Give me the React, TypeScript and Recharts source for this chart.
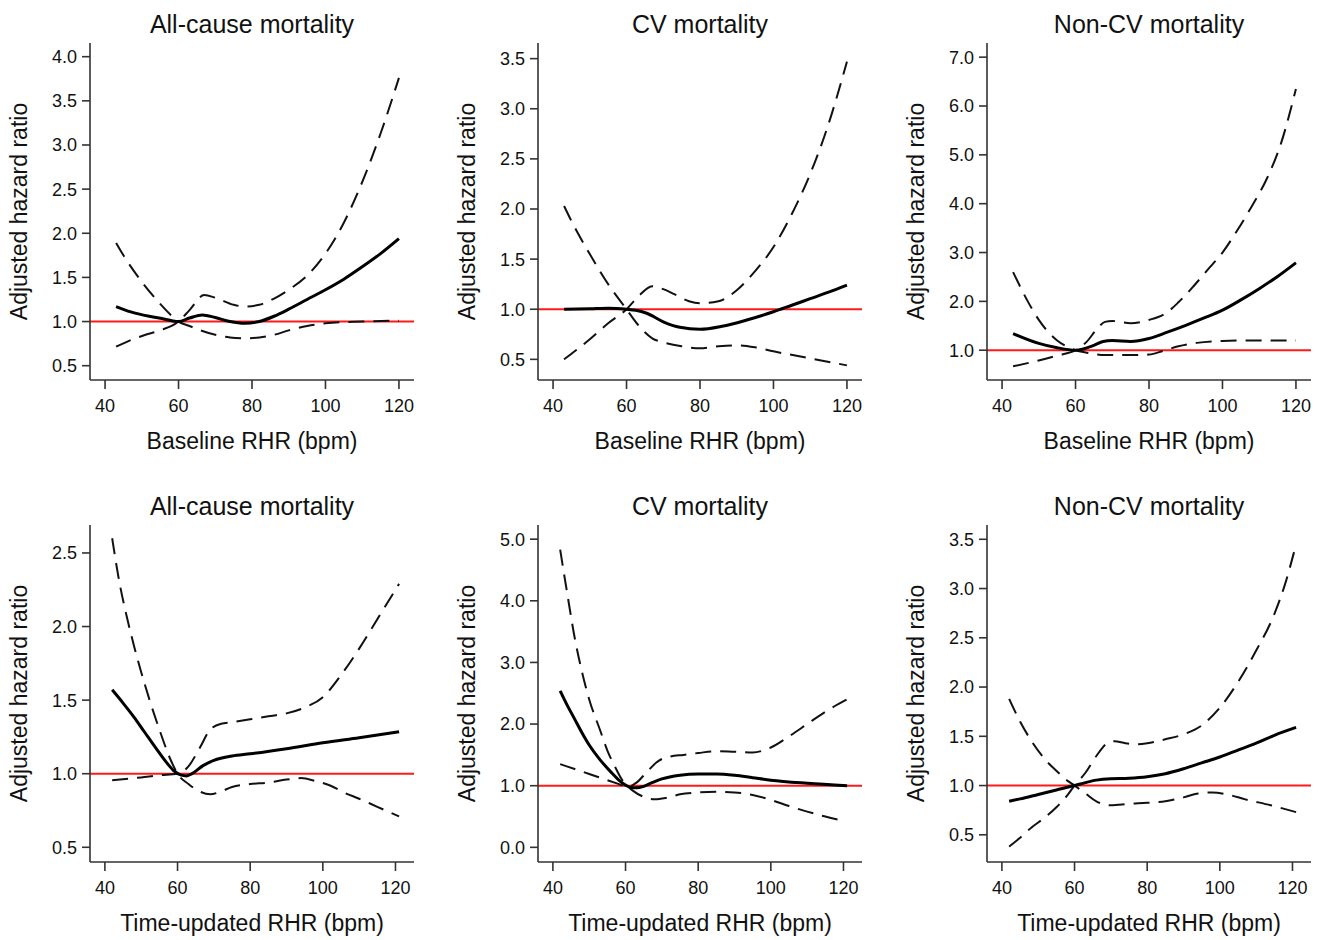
import { LineChart, Line, XAxis, YAxis, ReferenceLine } from 'recharts'

const xTicks = [40, 60, 80, 100, 120]

// top row: baseline RHR
const acBaseEstX = [43, 47, 52, 56, 60, 63, 66.5, 70, 74, 78, 82, 86, 90, 95, 100, 105, 110, 115, 120]
const acBaseEst = [1.17, 1.11, 1.06, 1.03, 1.0, 1.04, 1.075, 1.045, 1.0, 0.98, 1.0, 1.06, 1.14, 1.25, 1.36, 1.48, 1.62, 1.77, 1.94]
const acBaseAX = [43, 45, 50, 55, 58, 60, 63, 66, 70, 74, 78, 82, 86, 90, 95, 100, 110, 120]
const acBaseA = [1.89, 1.75, 1.45, 1.2, 1.07, 1.0, 0.95, 0.9, 0.85, 0.82, 0.81, 0.82, 0.85, 0.9, 0.95, 0.98, 1.0, 1.01]
const acBaseBX = [43, 47, 51, 55, 60, 63, 67, 70, 75, 78, 82, 86, 90, 95, 100, 105, 110, 115, 120]
const acBaseB = [0.715, 0.79, 0.85, 0.9, 1.0, 1.13, 1.3, 1.27, 1.19, 1.17, 1.19, 1.26, 1.36, 1.52, 1.77, 2.12, 2.58, 3.13, 3.76]

const cvBaseEstX = [43, 50, 55, 60, 62.5, 65.5, 70, 74.5, 80, 86, 92.5, 100, 105, 110, 115, 120]
const cvBaseEst = [1.0, 1.005, 1.01, 1.0, 0.99, 0.96, 0.875, 0.82, 0.8, 0.83, 0.89, 0.975, 1.04, 1.105, 1.17, 1.24]
const cvBaseAX = [43, 45, 50, 55, 60, 63, 67, 70, 75, 80, 85, 90, 95, 100, 110, 120]
const cvBaseA = [2.03, 1.88, 1.55, 1.25, 1.0, 0.85, 0.71, 0.67, 0.63, 0.61, 0.63, 0.64, 0.62, 0.58, 0.51, 0.44]
const cvBaseBX = [43, 50, 55, 60, 63, 67, 70, 73, 77, 80, 85, 90, 95, 100, 105, 110, 115, 120]
const cvBaseB = [0.5, 0.7, 0.86, 1.0, 1.12, 1.23, 1.2, 1.15, 1.08, 1.06, 1.08, 1.19, 1.38, 1.62, 1.95, 2.35, 2.85, 3.47]

const ncvBaseEstX = [43, 50, 55, 60, 65, 67.5, 70, 75, 80, 85, 90, 95, 100, 105, 110, 115, 120]
const ncvBaseEst = [1.34, 1.14, 1.05, 1.0, 1.1, 1.18, 1.2, 1.18, 1.24, 1.37, 1.51, 1.66, 1.82, 2.03, 2.26, 2.51, 2.79]
const ncvBaseAX = [43, 47, 50, 55, 58, 60, 63, 68, 75, 80, 84, 88, 93, 100, 110, 120]
const ncvBaseA = [2.6, 2.0, 1.62, 1.2, 1.06, 1.0, 0.95, 0.9, 0.9, 0.91, 0.99, 1.08, 1.15, 1.19, 1.2, 1.2]
const ncvBaseBX = [43, 50, 55, 60, 63, 66, 68, 70, 72, 75, 80, 85, 88, 92, 96, 100, 104, 108, 112, 116, 120]
const ncvBaseB = [0.67, 0.79, 0.89, 1.0, 1.17, 1.45, 1.58, 1.6, 1.58, 1.55, 1.62, 1.78, 1.98, 2.3, 2.65, 3.0, 3.45, 3.95, 4.5, 5.25, 6.35]

// bottom row: time-updated RHR
const acTuEstX = [42, 45, 48, 51, 54, 57, 59, 61, 62.5, 64, 67, 70, 75, 80, 90, 100, 110, 121]
const acTuEst = [1.57, 1.48, 1.385, 1.28, 1.175, 1.075, 1.02, 0.99, 0.985, 1.0, 1.055, 1.09, 1.12, 1.135, 1.17, 1.21, 1.245, 1.285]
const acTuAX = [42, 44, 46, 48, 50, 55, 58, 60, 63, 66, 69, 72, 75, 80, 85, 90, 94, 98, 102, 106, 110, 115, 121]
const acTuA = [2.6, 2.3, 2.07, 1.87, 1.69, 1.3, 1.1, 1.0, 0.93, 0.88, 0.86, 0.88, 0.91, 0.93, 0.94, 0.96, 0.97, 0.95, 0.92, 0.87, 0.83, 0.775, 0.71]
const acTuBX = [42, 50, 55, 60, 63, 66, 69, 72, 75, 80, 85, 90, 95, 100, 105, 110, 115, 121]
const acTuB = [0.955, 0.975, 0.99, 1.0, 1.05, 1.17, 1.3, 1.34, 1.35, 1.37, 1.39, 1.41, 1.45, 1.52, 1.67, 1.85, 2.05, 2.29]

const cvTuEstX = [42, 44, 46, 48, 50, 53, 56, 58, 60, 61.5, 63, 65, 67, 70, 75, 80, 85, 90, 95, 100, 110, 121]
const cvTuEst = [2.54, 2.3, 2.08, 1.86, 1.66, 1.42, 1.22, 1.1, 1.01, 0.97, 0.965, 0.99, 1.04, 1.11, 1.17, 1.19, 1.19, 1.17, 1.13, 1.09, 1.04, 1.0]
const cvTuAX = [42, 44, 46, 48, 50, 53, 55, 57, 59, 60.5, 62, 65, 68, 71, 75, 80, 85, 90, 95, 100, 105, 110, 115, 120]
const cvTuA = [4.83, 4.1, 3.4, 2.85, 2.4, 1.9, 1.57, 1.32, 1.1, 1.0, 0.92, 0.82, 0.78, 0.8, 0.86, 0.89, 0.9, 0.89, 0.85, 0.77, 0.67, 0.58, 0.5, 0.43]
const cvTuBX = [42, 46, 50, 54, 58, 60.5, 63, 66, 69, 72, 76, 80, 85, 90, 95, 100, 105, 110, 115, 121]
const cvTuB = [1.35, 1.27, 1.19, 1.11, 1.03, 0.98, 1.05, 1.23, 1.4, 1.47, 1.5, 1.53, 1.56, 1.55, 1.54, 1.62, 1.8, 2.0, 2.2, 2.4]

const ncvTuEstX = [42, 45, 50, 55, 60, 63, 66, 70, 75, 80, 85, 90, 95, 100, 105, 110, 115, 121]
const ncvTuEst = [0.84, 0.865, 0.91, 0.955, 1.0, 1.03, 1.055, 1.07, 1.075, 1.09, 1.12, 1.17, 1.23, 1.29, 1.36, 1.43, 1.51, 1.59]
const ncvTuAX = [42, 45, 48, 52, 55, 58, 60, 63, 66, 70, 75, 80, 85, 90, 94, 98, 102, 107, 114, 121]
const ncvTuA = [1.88, 1.65, 1.46, 1.26, 1.15, 1.05, 1.0, 0.92, 0.84, 0.8, 0.815, 0.825, 0.84, 0.88, 0.92, 0.93, 0.91, 0.86, 0.8, 0.73]
const ncvTuBX = [42, 45, 48, 52, 55, 58, 60, 63, 66, 69, 71, 74, 77, 80, 85, 90, 95, 100, 105, 110, 115, 118, 121]
const ncvTuB = [0.38, 0.47, 0.57, 0.68, 0.78, 0.9, 1.0, 1.13, 1.3, 1.43, 1.45, 1.43, 1.42, 1.43, 1.47, 1.52, 1.61, 1.79, 2.05, 2.37, 2.74, 3.05, 3.45]

const zip = (xs: number[], ys: number[]) => xs.map((x, i) => ({ x, y: ys[i] }))

const font = '"Liberation Sans", Arial, sans-serif'
const ink = '#111'
const axisColor = '#333'

interface PanelProps {
  left: number
  top: number
  title: string
  xLabel: string
  xDomain: [number, number]
  yDomain: [number, number]
  yTicks: number[]
  est: { x: number; y: number }[]
  bandA: { x: number; y: number }[]
  bandB: { x: number; y: number }[]
}

function Panel({ left, top, title, xLabel, xDomain, yDomain, yTicks, est, bandA, bandB }: PanelProps) {
  return (
    <div style={{ position: 'absolute', left, top, width: 440, height: 470 }}>
      <div
        style={{
          position: 'absolute',
          left: 90,
          width: 324,
          top: 12,
          textAlign: 'center',
          fontFamily: font,
          fontSize: 25,
          lineHeight: '25px',
          color: ink,
          whiteSpace: 'nowrap',
        }}
      >
        {title}
      </div>
      <LineChart width={440} height={470} margin={{ top: 43, right: 26, bottom: 0, left: 0 }}>
        <XAxis
          type="number"
          dataKey="x"
          domain={xDomain}
          ticks={xTicks}
          interval={0}
          allowDataOverflow
          height={90}
          tickSize={9}
          tickMargin={10}
          axisLine={{ stroke: axisColor, strokeWidth: 1.6 }}
          tickLine={{ stroke: axisColor, strokeWidth: 1.6 }}
          tick={{ fill: ink, fontSize: 18, fontFamily: font }}
          label={{ value: xLabel, position: 'insideBottom', offset: 21, fill: ink, fontSize: 23, fontFamily: font }}
        />
        <YAxis
          type="number"
          domain={yDomain}
          ticks={yTicks}
          interval={0}
          allowDataOverflow
          width={90}
          tickSize={8}
          tickMargin={5}
          tickFormatter={(v: number) => v.toFixed(1)}
          axisLine={{ stroke: axisColor, strokeWidth: 1.6 }}
          tickLine={{ stroke: axisColor, strokeWidth: 1.6 }}
          tick={{ fill: ink, fontSize: 18, fontFamily: font }}
          label={{
            value: 'Adjusted hazard ratio',
            angle: -90,
            position: 'insideLeft',
            offset: 19,
            fill: ink,
            fontSize: 23,
            fontFamily: font,
            style: { textAnchor: 'middle' },
          }}
        />
        <ReferenceLine y={1} stroke="#ff1a1a" strokeWidth={2} />
        <Line data={bandA} dataKey="y" type="monotone" stroke="#111" strokeWidth={2} strokeDasharray="16 9" dot={false} isAnimationActive={false} />
        <Line data={bandB} dataKey="y" type="monotone" stroke="#111" strokeWidth={2} strokeDasharray="16 9" dot={false} isAnimationActive={false} />
        <Line data={est} dataKey="y" type="monotone" stroke="#000" strokeWidth={3} dot={false} isAnimationActive={false} />
      </LineChart>
    </div>
  )
}

export default function App() {
  const topX: [number, number] = [35.9, 124.1]
  const botX: [number, number] = [35.9, 125.1]
  return (
    <div style={{ position: 'absolute', left: 0, top: 0, width: 1322, height: 940, background: '#fff' }}>
      <Panel
        left={0}
        top={0}
        title="All-cause mortality"
        xLabel="Baseline RHR (bpm)"
        xDomain={topX}
        yDomain={[0.338, 4.155]}
        yTicks={[0.5, 1, 1.5, 2, 2.5, 3, 3.5, 4]}
        est={zip(acBaseEstX, acBaseEst)}
        bandA={zip(acBaseAX, acBaseA)}
        bandB={zip(acBaseBX, acBaseB)}
      />
      <Panel
        left={448}
        top={0}
        title="CV mortality"
        xLabel="Baseline RHR (bpm)"
        xDomain={topX}
        yDomain={[0.294, 3.656]}
        yTicks={[0.5, 1, 1.5, 2, 2.5, 3, 3.5]}
        est={zip(cvBaseEstX, cvBaseEst)}
        bandA={zip(cvBaseAX, cvBaseA)}
        bandB={zip(cvBaseBX, cvBaseB)}
      />
      <Panel
        left={897}
        top={0}
        title="Non-CV mortality"
        xLabel="Baseline RHR (bpm)"
        xDomain={topX}
        yDomain={[0.39, 7.29]}
        yTicks={[1, 2, 3, 4, 5, 6, 7]}
        est={zip(ncvBaseEstX, ncvBaseEst)}
        bandA={zip(ncvBaseAX, ncvBaseA)}
        bandB={zip(ncvBaseBX, ncvBaseB)}
      />
      <Panel
        left={0}
        top={482}
        title="All-cause mortality"
        xLabel="Time-updated RHR (bpm)"
        xDomain={botX}
        yDomain={[0.4, 2.69]}
        yTicks={[0.5, 1, 1.5, 2, 2.5]}
        est={zip(acTuEstX, acTuEst)}
        bandA={zip(acTuAX, acTuA)}
        bandB={zip(acTuBX, acTuB)}
      />
      <Panel
        left={448}
        top={482}
        title="CV mortality"
        xLabel="Time-updated RHR (bpm)"
        xDomain={botX}
        yDomain={[-0.238, 5.23]}
        yTicks={[0, 1, 2, 3, 4, 5]}
        est={zip(cvTuEstX, cvTuEst)}
        bandA={zip(cvTuAX, cvTuA)}
        bandB={zip(cvTuBX, cvTuB)}
      />
      <Panel
        left={897}
        top={482}
        title="Non-CV mortality"
        xLabel="Time-updated RHR (bpm)"
        xDomain={botX}
        yDomain={[0.224, 3.645]}
        yTicks={[0.5, 1, 1.5, 2, 2.5, 3, 3.5]}
        est={zip(ncvTuEstX, ncvTuEst)}
        bandA={zip(ncvTuAX, ncvTuA)}
        bandB={zip(ncvTuBX, ncvTuB)}
      />
    </div>
  )
}
